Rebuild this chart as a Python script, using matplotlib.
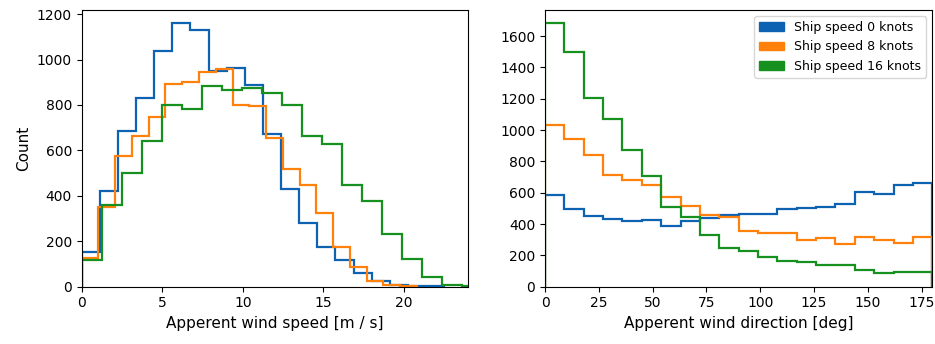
import numpy as np
import matplotlib
matplotlib.use("Agg")
import matplotlib.pyplot as plt
from matplotlib.patches import Patch

labels = ["Ship speed 0 knots", "Ship speed 8 knots", "Ship speed 16 knots"]
colors = ["#0d63b2", "#ff800a", "#16911f"]

# Apparent wind speed histograms (20 bins each, from 0 to the max of each series)
speed_max = [22.5, 20.8, 24.86]
speed_counts = [
    [154, 419, 684, 829, 1037, 1160, 1132, 949, 963, 889, 673, 430, 281, 176, 118, 61, 25, 9, 4, 1],
    [127, 351, 574, 662, 749, 890, 899, 946, 960, 798, 796, 654, 520, 449, 325, 176, 88, 23, 6, 3],
    [117, 359, 499, 640, 798, 783, 883, 864, 875, 853, 800, 664, 626, 449, 376, 233, 121, 44, 6, 3],
]

# Apparent wind direction histograms (20 bins, 0..180 deg)
dir_max = 180
dir_counts = [
    [584, 499, 450, 433, 419, 429, 387, 419, 438, 457, 465, 467, 495, 501, 510, 527, 603, 589, 648, 661],
    [1035, 943, 839, 714, 680, 652, 574, 518, 455, 444, 355, 346, 340, 295, 313, 274, 319, 295, 276, 320],
    [1683, 1500, 1207, 1073, 873, 705, 510, 444, 329, 249, 227, 191, 164, 155, 136, 136, 104, 90, 97, 97],
]

fig = plt.figure(figsize=(9.35, 3.44), dpi=100)
ax1 = fig.add_axes([0.0874, 0.1666, 0.4135, 0.8044])
ax2 = fig.add_axes([0.5829, 0.1666, 0.4142, 0.8044])

for counts, mx, c, lab in zip(speed_counts, speed_max, colors, labels):
    edges = np.linspace(0, mx, len(counts) + 1)
    ax1.stairs(counts, edges, color=c, linewidth=1.6, label=lab)

for counts, c, lab in zip(dir_counts, colors, labels):
    edges = np.linspace(0, dir_max, len(counts) + 1)
    ax2.stairs(counts, edges, color=c, linewidth=1.6, label=lab)

ax1.set_xlim(0, 24)
ax1.set_ylim(0, max(max(c) for c in speed_counts) * 1.05)
ax1.set_xticks([0, 5, 10, 15, 20])
ax1.set_yticks(range(0, 1201, 200))
ax1.set_xlabel("Apperent wind speed [m / s]", fontsize=11)
ax1.set_ylabel("Count", fontsize=11)

ax2.set_xlim(0, 180)
ax2.set_ylim(0, max(max(c) for c in dir_counts) * 1.05)
ax2.set_xticks([0, 25, 50, 75, 100, 125, 150, 175])
ax2.set_yticks(range(0, 1601, 200))
ax2.set_xlabel("Apperent wind direction [deg]", fontsize=11)

for ax in (ax1, ax2):
    ax.tick_params(labelsize=10)

handles = [Patch(facecolor=c, edgecolor=c) for c in colors]
ax2.legend(handles, labels, loc="upper right", fontsize=9)

fig.savefig("out.png", dpi=100)
